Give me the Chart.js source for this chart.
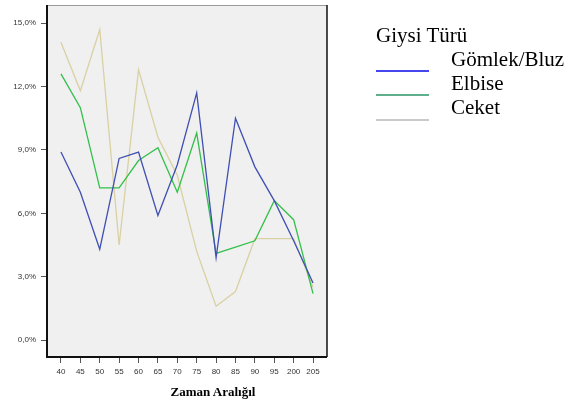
<!DOCTYPE html>
<html>
<head>
<meta charset="utf-8">
<script src="https://cdn.jsdelivr.net/npm/chart.js@4"></script>
<style>
  body { margin: 0; background: #fff; }
  #wrap { position: relative; width: 584px; height: 403px; }
  #chart { position: absolute; left: 0; top: 0; }
  .serif { font-family: "Liberation Serif", "Times New Roman", serif; color: #000; position: absolute; white-space: nowrap; }
  #xTitle { font-weight: bold; font-size: 13px; left: 213px; top: 384px; transform: translateX(-50%); }
  #legend { left: 376px; top: 0; font-size: 21px; }
  .lg-title { position: absolute; left: 0; top: 23px; }
  .lg-label { position: absolute; left: 75px; }
  .lg-line { position: absolute; left: 0; width: 53px; height: 2px; }
</style>
</head>
<body>
<div id="wrap">
  <canvas id="chart" width="584" height="403"></canvas>
  <div id="xTitle" class="serif">Zaman Aralığıl</div>
  <div id="legend" class="serif"></div>
</div>
<script>

const zamanLabels = ['40', '45', '50', '55', '60', '65', '70', '75', '80', '85', '90', '95', '200', '205'];

const gomlekBluz = [8.9, 7.0, 4.3, 8.6, 8.9, 5.9, 8.3, 11.7, 3.9, 10.5, 8.2, 6.6, 4.7, 2.7];
const elbise     = [12.6, 11.0, 7.2, 7.2, 8.5, 9.1, 7.0, 9.8, 4.1, 4.4, 4.7, 6.6, 5.7, 2.2];
const ceket      = [14.1, 11.8, 14.7, 4.5, 12.8, 9.6, 7.8, 4.2, 1.6, 2.3, 4.8, 4.8, 4.8, 2.5];

const yTicks = [0, 3, 6, 9, 12, 15];

const legendTitle = 'Giysi Türü';
const seriesNames = ['Gömlek/Bluz', 'Elbise', 'Ceket'];
const lineColors = ['#3f4fb3', '#33c04a', '#d9d1a3'];
const legendColors = ['#4646ee', '#5fae8c', '#cacaca'];

function toPoints(values){
    return values.map((v, i) => ({ x: i, y: v }));
}

// plot frame like the SPSS output: grey fill, grey top edge, dark other edges
const framePlugin = {
    id: 'frame',
    beforeDatasetsDraw(chart){
        const a = chart.chartArea;
        const ctx = chart.ctx;
        ctx.save();
        ctx.fillStyle = '#f0f0f0';
        ctx.fillRect(a.left, a.top, a.right - a.left, a.bottom - a.top);
        ctx.restore();
    },
    afterDatasetsDraw(chart){
        const a = chart.chartArea;
        const ctx = chart.ctx;
        ctx.save();
        ctx.lineWidth = 1;
        ctx.strokeStyle = '#9a9a9a';
        ctx.beginPath();
        ctx.moveTo(a.left, a.top + 0.5);
        ctx.lineTo(a.right, a.top + 0.5);
        ctx.stroke();
        ctx.strokeStyle = '#111';
        ctx.lineWidth = 2;
        ctx.beginPath();
        ctx.moveTo(a.left, a.top);
        ctx.lineTo(a.left, a.bottom);
        ctx.lineTo(a.right, a.bottom);
        ctx.stroke();
        ctx.lineWidth = 1.5;
        ctx.beginPath();
        ctx.moveTo(a.right, a.top);
        ctx.lineTo(a.right, a.bottom);
        ctx.stroke();
        ctx.restore();
    }
};

const datasets = [gomlekBluz, elbise, ceket].map((values, i) => ({
    label: seriesNames[i],
    data: toPoints(values),
    borderColor: lineColors[i],
    backgroundColor: lineColors[i],
    borderWidth: 1.3,
    pointRadius: 0,
    tension: 0,
    fill: false
}));

new Chart(document.getElementById('chart'), {
    type: 'line',
    data: { datasets: datasets },
    options: {
        responsive: false,
        animation: false,
        layout: { autoPadding: false, padding: { top: 5, right: 257, bottom: 0, left: 0 } },
        plugins: {
            legend: { display: false },
            tooltip: { enabled: false }
        },
        scales: {
            x: {
                type: 'linear',
                min: -0.72,
                max: 13.72,
                afterFit(scale){
                    scale.height = 46;
                    scale.paddingLeft = 0;
                    scale.paddingRight = 0;
                },
                afterBuildTicks(scale){
                    scale.ticks = zamanLabels.map((_, i) => ({ value: i }));
                },
                ticks: {
                    autoSkip: false,
                    maxRotation: 0,
                    padding: 4,
                    color: '#333',
                    font: { family: 'Liberation Sans, Arial', size: 8 },
                    callback: (v) => zamanLabels[v]
                },
                grid: { drawOnChartArea: false, drawTicks: true, tickLength: 6, color: '#555' },
                border: { display: false }
            },
            y: {
                min: -0.8,
                max: 15.86,
                afterFit(scale){
                    scale.width = 47;
                    scale.paddingTop = 0;
                    scale.paddingBottom = 0;
                },
                afterBuildTicks(scale){
                    scale.ticks = yTicks.map(v => ({ value: v }));
                },
                ticks: {
                    padding: 5,
                    color: '#333',
                    font: { family: 'Liberation Sans, Arial', size: 8 },
                    callback: (v) => v.toFixed(1).replace('.', ',') + '%'
                },
                grid: { drawOnChartArea: false, drawTicks: true, tickLength: 6, color: '#555' },
                border: { display: false }
            }
        }
    },
    plugins: [framePlugin]
});

// legend, laid out the way the reference has it
const legend = document.getElementById('legend');
const title = document.createElement('div');
title.className = 'lg-title';
title.textContent = legendTitle;
legend.appendChild(title);

seriesNames.forEach((name, i) => {
    const label = document.createElement('div');
    label.className = 'lg-label';
    label.style.top = (46.5 + i * 24.2) + 'px';
    label.textContent = name;
    legend.appendChild(label);

    const line = document.createElement('div');
    line.className = 'lg-line';
    line.style.top = (69.5 + i * 24.8) + 'px';
    line.style.background = legendColors[i];
    legend.appendChild(line);
});

</script>
</body>
</html>
